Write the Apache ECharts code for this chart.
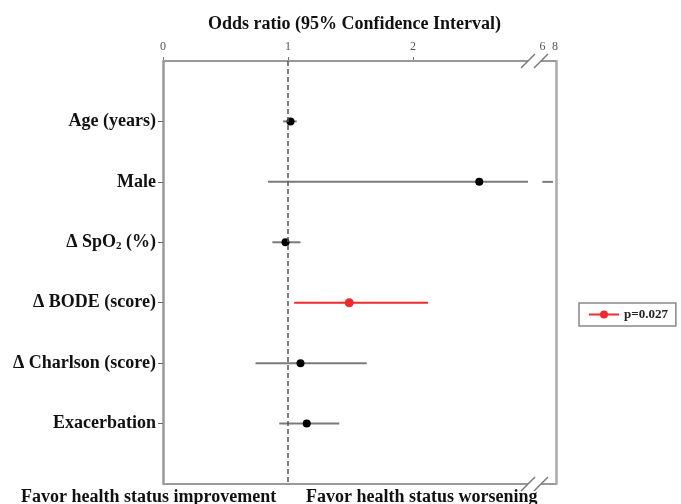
<!DOCTYPE html>
<html><head><meta charset="utf-8">
<script src="https://cdn.jsdelivr.net/npm/echarts@6/dist/echarts.min.js"></script>
<style>html,body{margin:0;padding:0;background:#fff}#c{width:681px;height:504px}</style>
</head><body><div id="c"></div>
<script>
// ---- data ----
const labels = ['Age (years)', 'Male', 'Δ SpO2 (%)', 'Δ BODE (score)', 'Δ Charlson (score)', 'Exacerbation'];
const oddsRatio = [1.02, 2.53, 0.98, 1.49, 1.10, 1.15];
const ciLower   = [0.96, 0.84, 0.875, 1.05, 0.74, 0.93];
const ciUpper   = [1.07, 7.7, 1.10, 2.12, 1.63, 1.41];
const tickValues = [0, 1, 2, 6, 8];
const sigIndex = 3;
const sigLabel = 'p=0.027';
const titleText = 'Odds ratio (95% Confidence Interval)';
const leftNote = 'Favor health status improvement';
const rightNote = 'Favor health status worsening';

// ---- broken x-axis mapping (0..3 linear, then compressed 6..8) ----
const BREAK_LO = 2.92, BREAK_HI = 3.024, SEG2_START = 6, SEG2_POS = 3.035, SEG2_SCALE = 0.05, X_MAX = 3.144;
function toAxis(v) { return v <= 3 ? v : SEG2_POS + (v - SEG2_START) * SEG2_SCALE; }
function fromAxis(a) { return a <= 3 ? a : SEG2_START + (a - SEG2_POS) / SEG2_SCALE; }

const rows = labels.map((_, i) => i + 1);
const SERIF = '"Liberation Serif", "Times New Roman", serif';

const ciData = [], ptData = [];
rows.forEach((r, i) => {
  if (i === sigIndex) return;
  ciData.push([toAxis(ciLower[i]), toAxis(ciUpper[i]), r]);
  ptData.push([toAxis(oddsRatio[i]), r]);
});
const sigData = [
  { value: [toAxis(ciLower[sigIndex]), rows[sigIndex]], symbol: 'none' },
  { value: [toAxis(oddsRatio[sigIndex]), rows[sigIndex]] },
  { value: [toAxis(ciUpper[sigIndex]), rows[sigIndex]], symbol: 'none' }
];

const chart = echarts.init(document.getElementById('c'), null, { renderer: 'canvas' });
const option = {
  animation: false,
  backgroundColor: '#fff',
  title: [
    { text: titleText, left: 203, top: 10, textStyle: { fontFamily: SERIF, fontWeight: 'bold', fontSize: 18, color: '#111' } },
    { text: leftNote, left: 16, top: 483, textStyle: { fontFamily: SERIF, fontWeight: 'bold', fontSize: 18, color: '#111' } },
    { text: rightNote, left: 301, top: 483, textStyle: { fontFamily: SERIF, fontWeight: 'bold', fontSize: 18, color: '#111' } }
  ],
  legend: {
    data: [sigLabel],
    left: 579, top: 303,
    orient: 'vertical',
    padding: [5, 8, 5, 9],
    borderColor: '#888', borderWidth: 1.5,
    itemWidth: 30, itemHeight: 10, itemGap: 5,
    textStyle: { fontFamily: SERIF, fontWeight: 'bold', fontSize: 13, color: '#222' }
  },
  grid: { left: 163, right: 125, top: 61, bottom: 20 },
  xAxis: {
    type: 'value', position: 'top', min: 0, max: X_MAX,
    axisLine: { show: false },
    splitLine: { show: false },
    axisTick: { show: true, customValues: [0, 1, 2], length: 4, lineStyle: { color: '#777', width: 1 } },
    axisLabel: {
      customValues: tickValues.map(toAxis),
      formatter: v => String(Math.round(fromAxis(v))),
      fontFamily: SERIF, fontSize: 12, color: '#555', margin: 8
    }
  },
  yAxis: [
    {
      type: 'value', min: 0, max: 7, inverse: true,
      axisLine: { show: true, lineStyle: { color: '#999', width: 2.5 } },
      splitLine: { show: false },
      axisTick: { show: true, customValues: rows, length: 5, lineStyle: { color: '#666', width: 1 } },
      axisLabel: {
        customValues: rows,
        margin: 7,
        formatter: v => {
          const t = labels[Math.round(v) - 1] || '';
          if (t.indexOf('SpO2') >= 0) {
            const parts = t.split('SpO2');
            return '{b|' + parts[0] + 'SpO}{s|2}{b|' + parts[1] + '}';
          }
          return '{b|' + t + '}';
        },
        rich: {
          b: { fontFamily: SERIF, fontWeight: 'bold', fontSize: 18, color: '#111' },
          s: { fontFamily: SERIF, fontWeight: 'bold', fontSize: 11, color: '#111', padding: [8, 0, 0, 0] }
        }
      }
    },
    {
      type: 'value', min: 0, max: 7, inverse: true, position: 'right',
      axisLine: { show: true, lineStyle: { color: '#aaa', width: 2.5 } },
      axisTick: { show: false }, axisLabel: { show: false }, splitLine: { show: false }
    }
  ],
  series: [
    {
      // frame: top and bottom borders with axis break marks
      type: 'custom', name: 'frame', silent: true, clip: false, z: 1,
      data: [[0]],
      renderItem: (params, api) => {
        const ch = [];
        const seg = (x1, x2, y, w, c) => {
          const a = api.coord([x1, y]), b = api.coord([x2, y]);
          ch.push({ type: 'line', shape: { x1: a[0], y1: a[1], x2: b[0], y2: b[1] }, style: { stroke: c, lineWidth: w } });
        };
        const slash = (x, y) => {
          const p = api.coord([x, y]);
          ch.push({ type: 'line', shape: { x1: p[0] - 7, y1: p[1] + 7, x2: p[0] + 7, y2: p[1] - 7 }, style: { stroke: '#777', lineWidth: 1.5 } });
        };
        [0, 7].forEach(y => {
          seg(0, BREAK_LO, y, 2, '#999');
          seg(BREAK_HI, X_MAX, y, 2, '#999');
          slash(BREAK_LO, y);
          slash(BREAK_HI, y);
        });
        return { type: 'group', children: ch };
      },
      markLine: {
        silent: true, symbol: 'none', label: { show: false },
        lineStyle: { type: [5, 3], color: '#555', width: 1.5 },
        data: [{ xAxis: 1 }]
      }
    },
    {
      type: 'custom', name: 'ci', silent: true, z: 2,
      data: ciData,
      renderItem: (params, api) => {
        const lo = api.value(0), hi = api.value(1), y = api.value(2);
        const ch = [];
        const seg = (x1, x2) => {
          const a = api.coord([x1, y]), b = api.coord([x2, y]);
          ch.push({ type: 'line', shape: { x1: a[0], y1: a[1], x2: b[0], y2: b[1] }, style: { stroke: '#7a7a7a', lineWidth: 2 } });
        };
        if (hi > BREAK_LO) {
          seg(lo, BREAK_LO);
          seg(toAxis(SEG2_START), hi);
        } else {
          seg(lo, hi);
        }
        return { type: 'group', children: ch };
      }
    },
    {
      type: 'scatter', name: 'or', z: 3,
      symbol: 'circle', symbolSize: 8,
      itemStyle: { color: '#000', opacity: 1 },
      data: ptData
    },
    {
      type: 'line', name: sigLabel, z: 4,
      showSymbol: true, symbol: 'circle', symbolSize: 9,
      itemStyle: { color: '#ee2a2a', opacity: 1 },
      lineStyle: { color: '#ee2a2a', width: 2 },
      data: sigData
    }
  ]
};
chart.setOption(option);
</script>
</body></html>
